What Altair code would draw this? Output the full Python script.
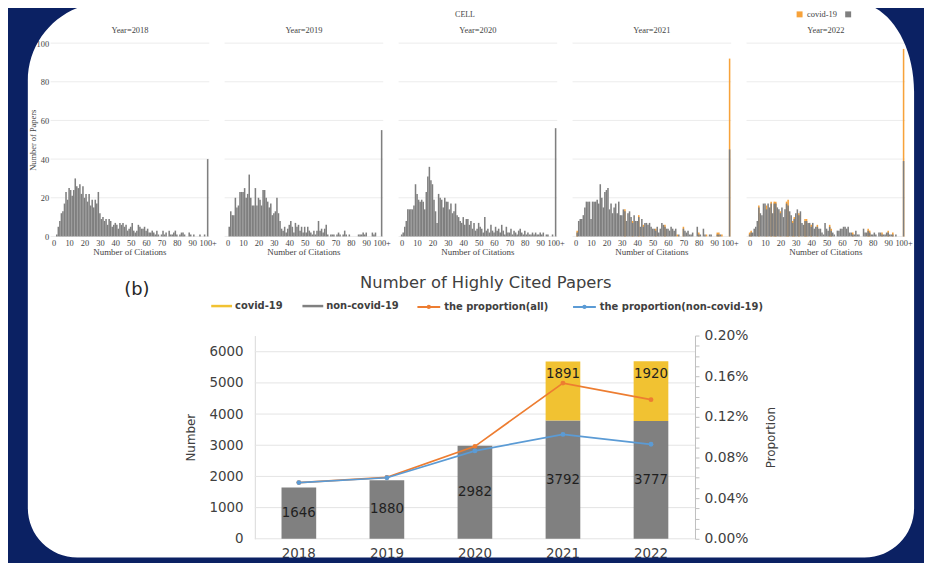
import altair as alt
import pandas as pd

# ---------------------------------------------------------------- data
journal = "CELL"
years = [2018, 2019, 2020, 2021, 2022]
citation_ticks = [0, 10, 20, 30, 40, 50, 60, 70, 80, 90, 100]   # 100 is the "100+" bin
hist_legend = ["covid-19", "non-covid-19"]

# number of papers per citation count (bins 0..99, last value = 100+)
non_covid_hist = {
    2018: [0, 0, 1, 5, 8, 12, 13, 17, 23, 19,
           25, 24, 21, 24, 30, 26, 25, 27, 22, 26,
           20, 22, 18, 22, 16, 19, 15, 19, 17, 23,
           12, 9, 10, 8, 9, 6, 9, 8, 5, 6,
           7, 6, 4, 7, 6, 7, 5, 6, 3, 4,
           5, 7, 3, 2, 3, 6, 5, 4, 4, 5,
           3, 4, 2, 2, 3, 2, 1, 3, 1, 0,
           1, 3, 1, 2, 0, 3, 1, 1, 2, 3,
           1, 0, 1, 2, 2, 1, 0, 0, 2, 1,
           0, 1, 0, 0, 0, 1, 0, 0, 1, 0,
           40],
    2019: [0, 5, 13, 11, 11, 20, 15, 16, 23, 23,
           23, 25, 20, 22, 32, 20, 16, 16, 25, 16,
           20, 19, 16, 24, 24, 20, 18, 15, 17, 11,
           12, 13, 20, 12, 8, 4, 3, 5, 2, 4,
           6, 8, 5, 2, 7, 5, 6, 3, 5, 2,
           5, 2, 5, 3, 2, 1, 3, 1, 3, 8,
           3, 4, 2, 4, 6, 1, 0, 1, 1, 1,
           0, 1, 2, 1, 0, 1, 3, 1, 0, 1,
           0, 0, 0, 0, 0, 1, 1, 1, 2, 1,
           2, 0, 0, 0, 2, 1, 2, 0, 0, 0,
           55],
    2020: [1, 2, 5, 8, 14, 14, 14, 14, 16, 27,
           22, 19, 18, 19, 18, 14, 23, 31, 36, 29,
           27, 19, 13, 7, 22, 20, 19, 15, 20, 18,
           18, 14, 17, 12, 13, 17, 11, 10, 8, 7,
           10, 6, 9, 9, 6, 8, 4, 7, 3, 4,
           7, 5, 4, 2, 10, 3, 4, 2, 6, 3,
           2, 5, 3, 4, 2, 6, 3, 1, 5, 2,
           2, 4, 1, 3, 2, 1, 3, 4, 2, 1,
           3, 1, 2, 1, 1, 2, 1, 2, 1, 1,
           2, 1, 2, 0, 1, 1, 0, 0, 1, 0,
           56],
    2021: [0, 2, 8, 9, 9, 11, 15, 18, 18, 18,
           9, 18, 18, 18, 19, 17, 27, 20, 15, 23,
           24, 25, 14, 17, 12, 15, 17, 12, 18, 11,
           11, 14, 13, 8, 12, 13, 10, 7, 11, 8,
           8, 10, 5, 9, 5, 7, 7, 6, 7, 5,
           4, 4, 3, 5, 2, 4, 7, 6, 5, 4,
           4, 3, 5, 4, 3, 4, 0, 1, 0, 0,
           4, 3, 2, 3, 1, 1, 2, 0, 0, 5,
           1, 1, 0, 4, 1, 0, 0, 1, 1, 0,
           0, 0, 1, 1, 1, 0, 0, 0, 0, 0,
           45],
    2022: [1, 2, 2, 4, 5, 8, 15, 12, 11, 17,
           17, 14, 17, 15, 17, 12, 17, 17, 15, 14,
           12, 15, 10, 14, 17, 16, 13, 11, 7, 9,
           12, 14, 11, 13, 7, 6, 8, 8, 7, 7,
           5, 7, 4, 5, 5, 4, 4, 2, 1, 7,
           4, 3, 5, 3, 2, 1, 0, 3, 3, 4,
           4, 5, 5, 4, 5, 2, 2, 1, 1, 3,
           1, 1, 0, 0, 4, 2, 2, 3, 2, 1,
           1, 2, 1, 0, 2, 2, 1, 1, 1, 2,
           2, 1, 1, 1, 0, 1, 0, 0, 0, 0,
           39],
}
covid_hist = {
    2021: {1: 1, 32: 1, 37: 1, 41: 1, 44: 1, 52: 1, 58: 1, 66: 1, 70: 1,
           80: 1, 85: 1, 92: 1, 93: 1, 95: 1, 100: 47},
    2022: {0: 1, 1: 1, 6: 1, 11: 2, 14: 1, 16: 1, 17: 1, 20: 1, 24: 1, 25: 3,
           28: 1, 29: 1, 32: 1, 36: 1, 37: 1, 40: 1, 44: 1, 52: 1, 53: 1,
           67: 1, 77: 1, 78: 1, 86: 1, 90: 1, 93: 1, 100: 58},
}
hist_y_ticks = [0, 20, 40, 60, 80, 100]

bar_series = ["covid-19", "non-covid-19"]
line_series = ["the proportion(all)", "the proportion(non-covid-19)"]
bar_non_covid = [1646, 1880, 2982, 3792, 3777]
bar_covid = [0, 0, 0, 1891, 1920]
prop_all = [0.000553, 0.000604, 0.000910, 0.001532, 0.001369]
prop_non = [0.000553, 0.000601, 0.000865, 0.001027, 0.000930]
number_ticks = [0, 1000, 2000, 3000, 4000, 5000, 6000]
prop_ticks = [round(i * 0.0001, 4) for i in range(21)]

panel_b = "(b)"
title_b = "Number of Highly Cited Papers"

# ---------------------------------------------------------------- styles
NAVY = "#0b2163"
HIST_GRAY = "#7f7f7f"
HIST_ORANGE = "#f7a23a"
BAR_GRAY = "#808080"
BAR_YELLOW = "#f1c232"
LINE_ORANGE = "#ed7d31"
LINE_BLUE = "#5b9bd5"
SERIF = "Liberation Serif"
SANS = "DejaVu Sans"
TXT = "#404040"
PANEL_UNITS = 113  # x-units between the origins of two histogram panels

# ---------------------------------------------------------------- tables
hist_rows = []
for k, yr in enumerate(years):
    cov = covid_hist.get(yr, {})
    for b, n in enumerate(non_covid_hist[yr]):
        c = cov.get(b, 0)
        xp = k * PANEL_UNITS + b
        hist_rows.append({"year": yr, "non": n, "covid": c, "total": n + c, "base": 0,
                          "x0": xp - 0.5, "x1": xp + 0.5})
hist_df = pd.DataFrame(hist_rows)

hgrid_df = pd.DataFrame([{"gx0": k * PANEL_UNITS - 2, "gx1": k * PANEL_UNITS + 101.03, "gy": v}
                         for k in range(len(years)) for v in hist_y_ticks])
panel_df = pd.DataFrame([{"label": f"Year={yr}", "xt": "Number of Citations",
                          "cx": k * PANEL_UNITS + 49.5} for k, yr in enumerate(years)])

bar_rows = []
for yr, n, c in zip(years, bar_non_covid, bar_covid):
    bar_rows.append({"year": str(yr), "series": "non-covid-19", "lo": 0, "hi": n, "mid": n / 2, "val": n})
    bar_rows.append({"year": str(yr), "series": "covid-19", "lo": n, "hi": n + c, "mid": n + c / 2, "val": c})
bars_df = pd.DataFrame(bar_rows)
grid2_df = pd.DataFrame({"v": number_ticks})

line_rows = []
for yr, a, b in zip(years, prop_all, prop_non):
    line_rows.append({"year": str(yr), "series": line_series[0], "p": a})
    line_rows.append({"year": str(yr), "series": line_series[1], "p": b})
lines_df = pd.DataFrame(line_rows)
one = pd.DataFrame({"k": [0]})

# ---------------------------------------------------------------- top: histograms
hx_scale = alt.Scale(domain=[-2, 4 * PANEL_UNITS + 101.03], range=[43, 905], nice=False, zero=False)
hy_scale = alt.Scale(domain=[0, 100], range=[228, 33], nice=False, zero=True)
hx_axis = alt.Axis(orient="bottom", offset=-327,
                   values=[k * PANEL_UNITS + t for k in range(len(years)) for t in citation_ticks],
                   labelExpr=f"datum.value % {PANEL_UNITS} == 100 ? '100+' : format(datum.value % {PANEL_UNITS}, 'd')",
                   domain=False, ticks=False, grid=False, labelPadding=2, labelFont=SERIF,
                   labelFontSize=8.5, labelColor="#444", labelFlush=False, labelOverlap=False, title=None)
hy_axis = alt.Axis(orient="left", offset=-43, values=hist_y_ticks, domain=False, ticks=False, grid=False,
                   labelPadding=2, labelFont=SERIF, labelFontSize=8.5, labelColor="#444",
                   title="Number of Papers", titleFont=SERIF, titleFontSize=8.5, titleFontWeight="normal",
                   titleColor="#444", titleAngle=270, titleX=-18, titleBaseline="middle")

g1_grid = alt.Chart(hgrid_df).mark_rule(color="#ececec", strokeWidth=1).encode(
    x=alt.X("gx0:Q", scale=hx_scale, axis=hx_axis), x2="gx1:Q",
    y=alt.Y("gy:Q", scale=hy_scale, axis=hy_axis))
g1_cov = alt.Chart(hist_df).transform_filter("datum.covid > 0").mark_rect(color=HIST_ORANGE).encode(
    x=alt.X("x0:Q", scale=hx_scale, axis=hx_axis), x2="x1:Q",
    y=alt.Y("total:Q", scale=hy_scale, axis=hy_axis), y2="base:Q")
g1_non = alt.Chart(hist_df).transform_filter("datum.non > 0").mark_rect(color=HIST_GRAY).encode(
    x=alt.X("x0:Q", scale=hx_scale, axis=hx_axis), x2="x1:Q",
    y=alt.Y("non:Q", scale=hy_scale, axis=hy_axis), y2="base:Q")
g1_year = alt.Chart(panel_df).mark_text(font=SERIF, fontSize=8.5, color="#444").encode(
    x=alt.X("cx:Q", scale=hx_scale, axis=hx_axis), y=alt.value(20), text="label:N")
g1_xt = alt.Chart(panel_df).mark_text(font=SERIF, fontSize=9, color="#444").encode(
    x=alt.X("cx:Q", scale=hx_scale, axis=hx_axis), y=alt.value(244), text="xt:N")
G1 = alt.layer(g1_grid, g1_cov, g1_non, g1_year, g1_xt)

# ---------------------------------------------------------------- bottom: bars
bx_scale = alt.Scale(domain=[str(y) for y in years], range=[249, 693], paddingInner=0.606, paddingOuter=0.303)
ny_scale = alt.Scale(domain=[0, 6518], range=[533, 328], nice=False, zero=True)
bx_axis = alt.Axis(orient="bottom", offset=-22, labelAngle=0, domain=False, ticks=False, grid=False,
                   labelPadding=8, labelFont=SANS, labelFontSize=13.5, labelColor=TXT, title=None)
ny_axis = alt.Axis(orient="left", offset=-249, values=number_ticks, format="d", grid=False, domain=True,
                   domainColor="#d9d9d9", ticks=False, labelPadding=12, labelFont=SANS,
                   labelFontSize=13.5, labelColor=TXT, title="Number", titleFont=SANS, titleFontSize=12,
                   titleFontWeight="normal", titleColor=TXT, titleAngle=270, titleX=-64.5,
                   titleBaseline="middle")
color_legend = alt.Legend(orient="none", legendX=205, legendY=287.5, direction="horizontal", title=None,
                          symbolType="M-1,-0.12H1V0.12H-1Z", symbolSize=441, symbolStrokeWidth=0,
                          labelFont=SANS, labelFontSize=10, labelFontWeight="bold", labelColor=TXT,
                          labelOffset=3, columnPadding=20, padding=0, labelLimit=300)

g2_grid = alt.Chart(grid2_df).mark_rule(color="#e4e4e4", strokeWidth=1).encode(
    y=alt.Y("v:Q", scale=ny_scale, axis=ny_axis), x=alt.value(249), x2=alt.value(693))
g2_bars = alt.Chart(bars_df).transform_filter("datum.val > 0").mark_bar().encode(
    x=alt.X("year:O", scale=bx_scale, axis=bx_axis),
    y=alt.Y("hi:Q", scale=ny_scale, axis=ny_axis), y2="lo:Q",
    color=alt.Color("series:N", scale=alt.Scale(domain=bar_series, range=[BAR_YELLOW, BAR_GRAY]),
                    legend=color_legend))
g2_lab_non = alt.Chart(bars_df).transform_filter("datum.series == 'non-covid-19'").mark_text(
    font=SANS, fontSize=13.5, color="#1f1f1f").encode(
    x=alt.X("year:O", scale=bx_scale, axis=bx_axis),
    y=alt.Y("mid:Q", scale=ny_scale, axis=ny_axis), text=alt.Text("val:Q", format="d"))
g2_lab_cov = alt.Chart(bars_df).transform_filter("datum.series == 'covid-19' && datum.val > 0").mark_text(
    font=SANS, fontSize=13.5, color="#1f1f1f", dy=13).encode(
    x=alt.X("year:O", scale=bx_scale, axis=bx_axis),
    y=alt.Y("hi:Q", scale=ny_scale, axis=ny_axis), text=alt.Text("val:Q", format="d"))
G2 = alt.layer(g2_grid, g2_bars, g2_lab_non, g2_lab_cov)

# ---------------------------------------------------------------- bottom: proportion lines
py_scale = alt.Scale(domain=[0, 0.002], range=[533, 328], nice=False, zero=True)
py_axis = alt.Axis(orient="right", offset=-231, values=prop_ticks,
                   labelExpr="round(datum.value * 10000) % 4 == 0 ? format(datum.value, '.2%') : ''",
                   grid=False, domain=True, domainColor="#bfbfbf", ticks=True, tickSize=4,
                   tickColor="#bfbfbf", labelPadding=5, labelFont=SANS, labelFontSize=14,
                   labelColor=TXT, labelFlush=False, labelOverlap=False, title="Proportion",
                   titleFont=SANS, titleFontSize=12, titleFontWeight="normal", titleColor=TXT,
                   titleAngle=270, titleX=76.5, titleBaseline="middle")
stroke_scale = alt.Scale(domain=line_series, range=[LINE_ORANGE, LINE_BLUE])
stroke_legend = alt.Legend(orient="none", legendX=412, legendY=286.5, direction="horizontal", title=None,
                           symbolType="M-1,0H1M0.1,0A0.1,0.1 0 1 1 -0.1,0A0.1,0.1 0 1 1 0.1,0",
                           symbolSize=529, symbolStrokeWidth=2, labelFont=SANS, labelFontSize=10,
                           labelFontWeight="bold", labelColor=TXT, labelOffset=3, columnPadding=20,
                           padding=0, labelLimit=300)

g3_layers = []
for s in line_series:
    flt = f"datum.series == '{s}'"
    g3_layers.append(alt.Chart(lines_df).transform_filter(flt).mark_line(strokeWidth=1.7).encode(
        x=alt.X("year:O", scale=bx_scale, axis=None),
        y=alt.Y("p:Q", scale=py_scale, axis=py_axis),
        stroke=alt.Stroke("series:N", scale=stroke_scale, legend=stroke_legend)))
    g3_layers.append(alt.Chart(lines_df).transform_filter(flt).mark_point(
        filled=True, size=24, opacity=1, strokeWidth=0).encode(
        x=alt.X("year:O", scale=bx_scale, axis=None),
        y=alt.Y("p:Q", scale=py_scale, axis=py_axis),
        fill=alt.Fill("series:N", scale=stroke_scale, legend=None)))
G3 = alt.layer(*g3_layers)

# ---------------------------------------------------------------- annotations
g4 = [
    alt.Chart(pd.DataFrame({"t": [journal]})).mark_text(font=SERIF, fontSize=8, color="#444").encode(
        text="t:N", x=alt.value(461), y=alt.value(5)),
    alt.Chart(pd.DataFrame({"t": [panel_b]})).mark_text(font=SANS, fontSize=18, color="#262626").encode(
        text="t:N", x=alt.value(130), y=alt.value(282)),
    alt.Chart(pd.DataFrame({"t": [title_b]})).mark_text(font=SANS, fontSize=16.5, color=TXT).encode(
        text="t:N", x=alt.value(482), y=alt.value(275)),
    alt.Chart(pd.DataFrame({"t": [hist_legend[0]]})).mark_square(size=36, color=HIST_ORANGE, opacity=1).encode(
        x=alt.value(798.5), y=alt.value(4)),
    alt.Chart(pd.DataFrame({"t": [hist_legend[0]]})).mark_text(font=SERIF, fontSize=8.5, color="#444",
                                                               align="left").encode(
        text="t:N", x=alt.value(806), y=alt.value(4)),
    alt.Chart(pd.DataFrame({"t": [hist_legend[1]]})).mark_square(size=36, color=HIST_GRAY, opacity=1).encode(
        x=alt.value(847.5), y=alt.value(4)),
]
G4 = alt.layer(*g4)

# ---------------------------------------------------------------- navy frame with rounded window
FRAME = ("M-60,-60H1000V650H-60Z"
         "M99,-8A79,79 0 0 0 20,71L20,502A50,50 0 0 0 70,552L864,552"
         "A50,50 0 0 0 914,502L914,82A60,90 0 0 0 854,-8Z")
G5 = alt.Chart(one).mark_point(shape=FRAME, size=4, filled=True, color=NAVY, opacity=1, strokeWidth=0).encode(
    x=alt.value(0), y=alt.value(0))

chart = alt.layer(G1, G2, G3, G4, G5).resolve_scale(
    x="independent", y="independent", color="independent", stroke="independent", fill="independent"
).properties(
    width=924, height=555, autosize=alt.AutoSizeParams(type="none"), padding=0
).configure_view(strokeWidth=0)

chart.save("out.html", embed_options={"renderer": "svg", "actions": False})
